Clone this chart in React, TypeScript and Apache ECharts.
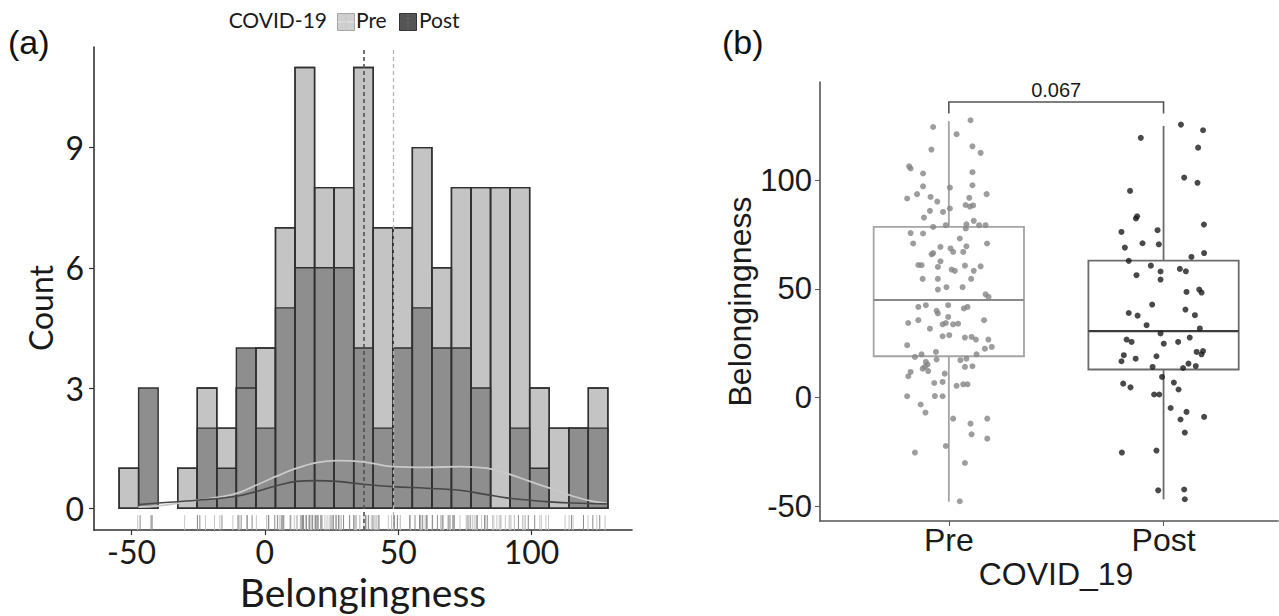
import { useEffect, useRef } from "react";
import * as echarts from "echarts";

// ---------- (a) histogram of Belongingness by COVID-19 period ----------
const BIN_START = -54.7;
const BIN_WIDTH = 7.334;
const preCounts = [1, 0, 0, 1, 3, 2, 3, 4, 7, 11, 8, 8, 11, 7, 7, 9, 6, 8, 8, 8, 8, 3, 2, 2, 3];
const postCounts = [0, 3, 0, 0, 2, 1, 4, 2, 5, 6, 6, 6, 4, 2, 4, 5, 4, 4, 3, 0, 2, 1, 0, 2, 2];
const preMean = 48.2;
const postMean = 37.2;

// density curves scaled to counts: [belongingness, count]
const preDensity = [
  [-47.5, 0.03], [-40, 0.06], [-33, 0.12], [-25.6, 0.2], [-18, 0.27], [-10.6, 0.37],
  [-3.1, 0.58], [4.4, 0.8], [11.9, 1.0], [19.4, 1.14], [26.9, 1.19], [36.9, 1.16],
  [48.1, 1.04], [60.6, 1.02], [73.1, 1.04], [83.2, 1.0], [90.7, 0.87], [99.4, 0.67],
  [106.9, 0.5], [115.6, 0.3], [123.1, 0.17], [128.2, 0.13],
];
const postDensity = [
  [-47.5, 0.09], [-40, 0.13], [-25.6, 0.2], [-10.6, 0.3], [-3.1, 0.42], [4.4, 0.56],
  [11.9, 0.67], [19.4, 0.69], [26.9, 0.67], [36.9, 0.6], [48.1, 0.54], [60.6, 0.5],
  [73.1, 0.45], [83.2, 0.34], [90.7, 0.26], [99.4, 0.2], [106.9, 0.16], [115.6, 0.13],
  [128.2, 0.11],
];

const belongTicksA = [-50, 0, 50, 100];
const countTicks = [0, 3, 6, 9];
const X_MIN_A = -64.1;
const X_MAX_A = 137.7;
const COUNT_MIN = -0.545;
const COUNT_MAX = 11.51;

// ---------- (b) box plot with jittered observations ----------
const groups = ["Pre", "Post"];
// [lower whisker, Q1, median, Q3, upper whisker]
const preBox = [-47.9, 19.0, 44.9, 78.5, 127.2];
const postBox = [-46.8, 12.9, 30.6, 63.0, 125.0];
const pValue = "0.067";

// [jitter offset, belongingness]
const prePoints = [
  [-0.073, 124.5], [0.036, 121.2], [0.101, 127.6], [-0.081, 114.1], [0.11, 115.6], [0.148, 112.6],
  [-0.185, 106.4], [-0.178, 105.4], [-0.12, 103.1], [0.11, 103.7], [-0.12, 97.2], [0.005, 96.6],
  [0.11, 97.7], [-0.194, 91.6], [-0.148, 93.6], [-0.085, 92.3], [-0.054, 90.2], [0.095, 91.9],
  [0.176, 93.6], [-0.088, 85.9], [-0.027, 85.4], [0.005, 87.0], [0.078, 88.6], [0.098, 87.9],
  [0.113, 88.4], [-0.116, 82.8], [-0.014, 79.3], [-0.073, 78.5], [0.082, 79.7], [0.116, 81.3],
  [0.141, 79.3], [0.171, 79.3], [-0.178, 75.7], [-0.12, 75.5], [0.079, 77.8], [-0.166, 70.9],
  [0.051, 73.2], [0.178, 70.9], [-0.039, 69.3], [-0.08, 65.9], [-0.073, 66.5], [0.008, 68.6],
  [0.02, 67.0], [0.067, 67.0], [0.082, 69.6], [-0.039, 62.7], [-0.142, 61.0], [-0.127, 60.9],
  [-0.051, 60.1], [0.013, 58.9], [0.028, 58.3], [0.075, 60.7], [0.116, 58.3], [0.148, 60.4],
  [-0.122, 54.6], [-0.051, 54.6], [0.104, 54.6], [-0.011, 50.8], [0.064, 50.8], [-0.051, 49.7],
  [0.171, 47.5], [0.185, 46.3], [-0.142, 41.7], [-0.107, 42.5], [-0.003, 42.5], [0.07, 41.0],
  [0.087, 41.7], [-0.057, 39.9], [-0.051, 38.7], [-0.189, 34.3], [-0.142, 35.6], [-0.088, 31.7],
  [-0.029, 33.7], [-0.014, 34.3], [-0.003, 37.1], [0.02, 33.7], [0.043, 34.0], [0.164, 35.6],
  [-0.029, 28.2], [0.002, 28.7], [0.075, 27.6], [0.106, 27.9], [0.126, 26.7], [0.184, 26.7],
  [-0.194, 24.1], [0.168, 22.5], [0.2, 23.3], [-0.158, 18.7], [-0.127, 19.9], [-0.06, 21.0],
  [0.129, 19.9], [-0.057, 17.5], [-0.107, 16.4], [-0.099, 15.2], [0.054, 17.2], [0.082, 17.9],
  [-0.122, 13.3], [-0.111, 14.1], [-0.096, 12.2], [-0.178, 11.8], [-0.189, 9.8], [-0.019, 11.0],
  [0.075, 14.1], [0.11, 14.4], [-0.068, 6.7], [-0.029, 7.2], [0.036, 5.4], [0.067, 6.1],
  [0.087, 6.1], [-0.194, 0.6], [-0.065, 0.7], [-0.029, 0.6], [-0.131, -3.2], [-0.109, -6.9],
  [0.02, -9.7], [0.179, -9.7], [0.101, -12.0], [0.106, -16.9], [0.179, -18.9], [-0.014, -22.3],
  [-0.158, -25.3], [0.075, -30.1], [0.051, -47.7],
];
const postPoints = [
  [0.081, 125.6], [0.184, 123.0], [-0.106, 119.5], [0.161, 115.0], [0.096, 101.2], [0.158, 98.8],
  [-0.156, 95.1], [-0.129, 82.4], [-0.123, 83.4], [0.188, 79.6], [-0.196, 76.2], [-0.028, 77.0],
  [-0.098, 71.0], [-0.022, 70.5], [-0.18, 69.0], [0.189, 66.5], [0.13, 64.7], [-0.162, 62.9],
  [-0.059, 60.7], [-0.014, 58.0], [-0.014, 54.3], [0.076, 59.2], [0.104, 58.1], [-0.126, 56.3],
  [0.107, 48.6], [0.166, 49.7], [0.177, 48.3], [-0.053, 42.8], [-0.162, 38.9], [-0.121, 37.7],
  [0.102, 40.5], [0.146, 37.9], [-0.079, 33.3], [0.169, 31.8], [-0.014, 29.5], [-0.172, 26.7],
  [-0.149, 25.6], [0.001, 24.8], [0.068, 25.6], [0.122, 27.6], [0.154, 21.0], [0.184, 21.4],
  [0.177, 19.9], [-0.185, 19.5], [-0.196, 16.7], [-0.13, 17.9], [-0.033, 19.0], [-0.051, 14.1],
  [0.091, 13.6], [0.116, 15.6], [0.15, 14.5], [-0.007, 9.5], [-0.188, 6.4], [-0.154, 4.7],
  [0.048, 6.9], [0.07, 3.7], [-0.044, 1.4], [-0.02, 1.4], [0.033, -4.8], [0.107, -6.6],
  [0.079, -10.1], [0.189, -8.9], [0.099, -16.1], [-0.194, -25.3], [-0.033, -24.4], [-0.025, -42.7],
  [0.096, -42.3], [0.099, -46.8],
];
const belongTicksB = [-50, 0, 50, 100];
const Y_MIN_B = -56.8;
const Y_MAX_B = 145.2;
const BRACKET_Y = 136;
const BRACKET_DROP = 5.3;

const FONT_A = "Lato";
const FONT_B = "Liberation Sans";

const PRE_FILL = "#c4c4c4";
const POST_FILL = "#8e8e8e";
const BAR_STROKE = "#303030";

function histRenderer(fill: string, stroke: string) {
  return (_params: any, api: any) => {
    const c = api.value(2);
    if (!c) return null;
    const tl = api.coord([api.value(0), c]);
    const br = api.coord([api.value(1), 0]);
    return {
      type: "rect",
      shape: { x: tl[0], y: tl[1], width: br[0] - tl[0], height: br[1] - tl[1] },
      style: { fill, stroke, lineWidth: 1.4 },
    };
  };
}

function rugRenderer(color: string) {
  return (_params: any, api: any) => {
    const p = api.coord([api.value(0), COUNT_MIN]);
    return {
      type: "line",
      shape: { x1: p[0], y1: p[1], x2: p[0], y2: p[1] - 15 },
      style: { stroke: color, lineWidth: 1 },
    };
  };
}

export default function App() {
  const ref = useRef<HTMLDivElement>(null);

  useEffect(() => {
    if (!ref.current) return;
    const chart = echarts.init(ref.current, undefined, { renderer: "svg" });

    const bins = (counts: number[]) =>
      counts.map((c, i) => [BIN_START + i * BIN_WIDTH, BIN_START + (i + 1) * BIN_WIDTH, c]);

    const boxColors = [
      { line: "#a4a4a4", median: "#8a8a8a" },
      { line: "#6c6c6c", median: "#3c3c3c" },
    ];

    const option: any = {
      animation: false,
      backgroundColor: "#ffffff",
      grid: [
        { left: 94, top: 47, width: 538, height: 487 },
        { left: 820, top: 82, width: 458, height: 439 },
      ],
      xAxis: [
        {
          gridIndex: 0,
          type: "value",
          min: X_MIN_A,
          max: X_MAX_A,
          splitLine: { show: false },
          axisLine: { show: true, onZero: false, lineStyle: { color: "#333", width: 1.6 } },
          axisTick: { show: true, length: 5, customValues: belongTicksA, lineStyle: { color: "#333", width: 1.2 } },
          axisLabel: { customValues: belongTicksA, fontFamily: FONT_A, fontSize: 32, color: "#1a1a1a", margin: 5 },
          name: "Belongingness",
          nameLocation: "middle",
          nameGap: 36,
          nameTextStyle: { fontFamily: FONT_A, fontSize: 39, color: "#1a1a1a" },
        },
        {
          gridIndex: 1,
          type: "value",
          min: 0.4,
          max: 2.533,
          splitLine: { show: false },
          axisLine: { show: true, onZero: false, lineStyle: { color: "#555", width: 1.6 } },
          axisTick: { show: true, length: 5, customValues: [1, 2], lineStyle: { color: "#555" } },
          axisLabel: {
            customValues: [1, 2],
            formatter: (v: number) => groups[Math.round(v) - 1] ?? "",
            fontFamily: FONT_B,
            fontSize: 32,
            color: "#1a1a1a",
            margin: 3,
          },
        },
      ],
      yAxis: [
        {
          gridIndex: 0,
          type: "value",
          min: COUNT_MIN,
          max: COUNT_MAX,
          splitLine: { show: false },
          axisLine: { show: true, onZero: false, lineStyle: { color: "#333", width: 1.6 } },
          axisTick: { show: true, length: 5, customValues: countTicks, lineStyle: { color: "#333", width: 1.2 } },
          axisLabel: { customValues: countTicks, fontFamily: FONT_A, fontSize: 32, color: "#1a1a1a", margin: 10 },
        },
        {
          gridIndex: 1,
          type: "value",
          min: Y_MIN_B,
          max: Y_MAX_B,
          splitLine: { show: false },
          axisLine: { show: true, onZero: false, lineStyle: { color: "#555", width: 1.6 } },
          axisTick: { show: true, length: 5, customValues: belongTicksB, lineStyle: { color: "#555" } },
          axisLabel: { customValues: belongTicksB, fontFamily: FONT_B, fontSize: 31, color: "#1a1a1a", margin: 8 },
          name: "Belongingness",
          nameLocation: "middle",
          nameGap: 64,
          nameRotate: 90,
          nameTextStyle: { fontFamily: FONT_B, fontSize: 32, color: "#1a1a1a" },
        },
      ],
      series: [
        // (a) Pre bars, Post bars on top, then the Pre outlines again
        {
          type: "custom",
          xAxisIndex: 0,
          yAxisIndex: 0,
          data: bins(preCounts),
          encode: { x: [0, 1], y: 2 },
          renderItem: histRenderer(PRE_FILL, BAR_STROKE),
        },
        {
          type: "custom",
          xAxisIndex: 0,
          yAxisIndex: 0,
          data: bins(postCounts),
          encode: { x: [0, 1], y: 2 },
          renderItem: histRenderer(POST_FILL, BAR_STROKE),
        },
        {
          type: "custom",
          xAxisIndex: 0,
          yAxisIndex: 0,
          data: bins(preCounts),
          encode: { x: [0, 1], y: 2 },
          renderItem: histRenderer("rgba(0,0,0,0)", BAR_STROKE),
        },
        // rug of individual observations
        {
          type: "custom",
          xAxisIndex: 0,
          yAxisIndex: 0,
          data: prePoints.map((p) => [p[1], 0]),
          encode: { x: 0, y: 1 },
          renderItem: rugRenderer("#c6c6c6"),
        },
        {
          type: "custom",
          xAxisIndex: 0,
          yAxisIndex: 0,
          data: postPoints.map((p) => [p[1], 0]),
          encode: { x: 0, y: 1 },
          renderItem: rugRenderer("#8c8c8c"),
        },
        // density curves
        {
          type: "line",
          xAxisIndex: 0,
          yAxisIndex: 0,
          data: preDensity,
          smooth: 0.4,
          showSymbol: false,
          lineStyle: { color: "#c9c9c9", width: 1.8 },
        },
        {
          type: "line",
          xAxisIndex: 0,
          yAxisIndex: 0,
          data: postDensity,
          smooth: 0.4,
          showSymbol: false,
          lineStyle: { color: "#484848", width: 1.6 },
          // group means
          markLine: {
            silent: true,
            symbol: ["none", "none"],
            label: { show: false },
            data: [
              { xAxis: preMean, lineStyle: { color: "#b4b4b4", type: [4, 3], width: 1.3 } },
              { xAxis: postMean, lineStyle: { color: "#505050", type: [4, 3], width: 1.6 } },
            ],
          },
        },
        // (b) boxes
        {
          type: "custom",
          xAxisIndex: 1,
          yAxisIndex: 1,
          data: [
            [1, ...preBox],
            [2, ...postBox],
          ],
          encode: { x: 0, y: [1, 5] },
          renderItem: (params: any, api: any) => {
            const pos = api.value(0);
            const mn = api.value(1);
            const q1 = api.value(2);
            const md = api.value(3);
            const q3 = api.value(4);
            const mx = api.value(5);
            const hw = 0.35;
            const col = boxColors[params.dataIndex];
            const c = (x: number, y: number) => api.coord([x, y]);
            const tl = c(pos - hw, q3);
            const br = c(pos + hw, q1);
            const top = c(pos, mx);
            const q3c = c(pos, q3);
            const q1c = c(pos, q1);
            const bot = c(pos, mn);
            const ml = c(pos - hw, md);
            const mr = c(pos + hw, md);
            const lw = 1.8;
            return {
              type: "group",
              children: [
                { type: "line", shape: { x1: top[0], y1: top[1], x2: q3c[0], y2: q3c[1] }, style: { stroke: col.line, lineWidth: lw } },
                { type: "line", shape: { x1: q1c[0], y1: q1c[1], x2: bot[0], y2: bot[1] }, style: { stroke: col.line, lineWidth: lw } },
                {
                  type: "rect",
                  shape: { x: tl[0], y: tl[1], width: br[0] - tl[0], height: br[1] - tl[1] },
                  style: { fill: "#ffffff", stroke: col.line, lineWidth: lw },
                },
                { type: "line", shape: { x1: ml[0], y1: ml[1], x2: mr[0], y2: mr[1] }, style: { stroke: col.median, lineWidth: 2.2 } },
              ],
            };
          },
        },
        // jittered observations
        {
          type: "scatter",
          xAxisIndex: 1,
          yAxisIndex: 1,
          data: prePoints.map((p) => [1 + p[0], p[1]]),
          symbolSize: 6,
          itemStyle: { color: "#858585" },
        },
        {
          type: "scatter",
          xAxisIndex: 1,
          yAxisIndex: 1,
          data: postPoints.map((p) => [2 + p[0], p[1]]),
          symbolSize: 6,
          itemStyle: { color: "#1c1c1c" },
        },
        // significance bracket
        {
          type: "custom",
          xAxisIndex: 1,
          yAxisIndex: 1,
          data: [[1, 2, BRACKET_Y, BRACKET_Y - BRACKET_DROP]],
          encode: { x: [0, 1], y: [2, 3] },
          renderItem: (_params: any, api: any) => {
            const a = api.coord([api.value(0), api.value(3)]);
            const b = api.coord([api.value(0), api.value(2)]);
            const d = api.coord([api.value(1), api.value(2)]);
            const e = api.coord([api.value(1), api.value(3)]);
            return {
              type: "group",
              children: [
                {
                  type: "polyline",
                  shape: { points: [a, b, d, e] },
                  style: { stroke: "#555", lineWidth: 1.6, fill: "none" },
                },
                {
                  type: "text",
                  style: {
                    text: pValue,
                    x: (b[0] + d[0]) / 2,
                    y: b[1] - 12,
                    align: "center",
                    verticalAlign: "middle",
                    fontFamily: FONT_B,
                    fontSize: 20,
                    fill: "#1a1a1a",
                  },
                },
              ],
            };
          },
        },
      ],
      graphic: [
        { type: "text", left: 8, top: 25, style: { text: "(a)", fontFamily: FONT_B, fontSize: 34, fill: "#111" } },
        { type: "text", left: 722, top: 25, style: { text: "(b)", fontFamily: FONT_B, fontSize: 34, fill: "#111" } },
        // y-axis title of panel (a)
        {
          type: "text",
          x: 40,
          y: 308,
          rotation: Math.PI / 2,
          style: {
            text: "Count",
            align: "center",
            verticalAlign: "middle",
            fontFamily: FONT_A,
            fontSize: 32,
            fill: "#1a1a1a",
          },
        },
        // x-axis title of panel (b)
        {
          type: "text",
          x: 1056,
          y: 574,
          style: {
            text: "COVID_19",
            align: "center",
            verticalAlign: "middle",
            fontFamily: FONT_B,
            fontSize: 32,
            fill: "#1a1a1a",
          },
        },
        // legend for panel (a)
        {
          type: "text",
          x: 327,
          y: 19,
          style: {
            text: "COVID-19",
            align: "right",
            verticalAlign: "middle",
            fontFamily: FONT_A,
            fontSize: 21,
            fill: "#1a1a1a",
          },
        },
        {
          type: "group",
          left: 335,
          top: 11,
          children: [
            { type: "rect", shape: { x: 0, y: 0, width: 17, height: 17 }, style: { fill: "#cfcfcf", stroke: "#a6a6a6", lineWidth: 1 } },
            { type: "line", shape: { x1: 0, y1: 8.5, x2: 17, y2: 8.5 }, style: { stroke: "#e6e6e6", lineWidth: 1 } },
            { type: "line", shape: { x1: 8.5, y1: 0, x2: 8.5, y2: 17 }, style: { stroke: "#bdbdbd", lineWidth: 1, lineDash: [2, 2] } },
          ],
        },
        {
          type: "text",
          x: 356,
          y: 19,
          style: { text: "Pre", verticalAlign: "middle", fontFamily: FONT_A, fontSize: 21, fill: "#1a1a1a" },
        },
        {
          type: "group",
          left: 399,
          top: 11,
          children: [
            { type: "rect", shape: { x: 0, y: 0, width: 17, height: 17 }, style: { fill: "#555555", stroke: "#333", lineWidth: 1 } },
            { type: "line", shape: { x1: 8.5, y1: 0, x2: 8.5, y2: 17 }, style: { stroke: "#777", lineWidth: 1, lineDash: [2, 2] } },
          ],
        },
        {
          type: "text",
          x: 419,
          y: 19,
          style: { text: "Post", verticalAlign: "middle", fontFamily: FONT_A, fontSize: 21, fill: "#1a1a1a" },
        },
      ],
    };

    chart.setOption(option);
    return () => chart.dispose();
  }, []);

  return (
    <div
      ref={ref}
      style={{ position: "fixed", left: 0, top: 0, width: 1279, height: 616, background: "#fff" }}
    />
  );
}
